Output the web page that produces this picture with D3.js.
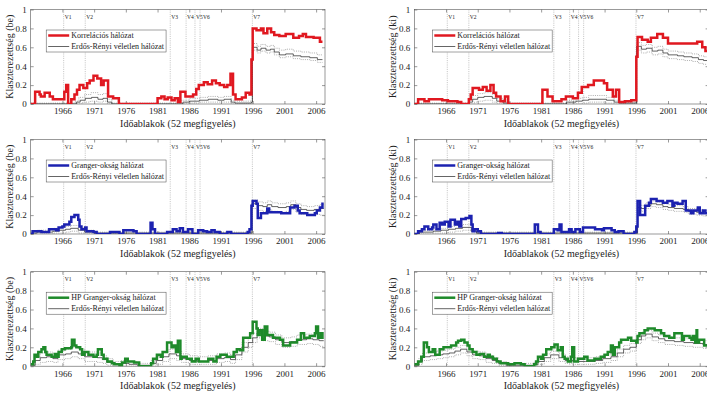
<!DOCTYPE html>
<html>
<head>
<meta charset="utf-8">
<script src="https://cdn.jsdelivr.net/npm/d3@7"></script>
<style>
  body { margin: 0; background: #fff; }
  text { font-family: "Liberation Serif", "Times New Roman", serif; fill: #222; }
</style>
</head>
<body>
<svg id="chart" width="707" height="393"></svg>
<script>
// tick labels and event markers
const yearTicks = [1966, 1971, 1976, 1981, 1986, 1991, 1996, 2001, 2006];
const valueTicks = [0, 0.2, 0.4, 0.6, 0.8, 1];
const eventYears = [1966.2, 1969.6, 1983.0, 1985.5, 1986.9, 1987.7, 1995.95];
const eventNames = ["V1", "V2", "V3", "V4", "V5", "V6", "V7"];

// korrelacios halozat (be)
const corrBeMain = [[1961,0],[1961.7,0.13],[1962.4,0.10],[1962.6,0.08],[1963.2,0.12],[1964.0,0.08],[1964.5,0.05],[1966.3,0.13],[1966.6,0.20],[1966.9,0.0],[1967.4,0.05],[1967.9,0.10],[1968.3,0.15],[1968.7,0.20],[1969.3,0.17],[1969.9,0.22],[1970.3,0.25],[1970.9,0.30],[1971.5,0.27],[1972.1,0.20],[1972.5,0.25],[1973.2,0.08],[1974.0,0.06],[1974.9,0.0],[1981.0,0.06],[1981.6,0.08],[1982.1,0.05],[1982.6,0.07],[1983.2,0.04],[1983.7,0.06],[1984.2,0.02],[1984.6,0.13],[1985.4,0.08],[1986.6,0.10],[1987.1,0.16],[1987.5,0.20],[1988.3,0.23],[1988.9,0.21],[1989.6,0.25],[1990.2,0.22],[1990.8,0.20],[1991.5,0.18],[1992.0,0.20],[1992.5,0.32],[1992.9,0.10],[1993.3,0.05],[1994.3,0.07],[1994.9,0.12],[1995.5,0.10],[1995.8,0.47],[1996.0,0.80],[1996.6,0.78],[1997.3,0.80],[1997.7,0.75],[1998.3,0.80],[1998.9,0.76],[1999.4,0.73],[2000.2,0.72],[2001.2,0.74],[2002.4,0.70],[2003.3,0.72],[2003.9,0.74],[2004.4,0.71],[2005.6,0.70],[2006.6,0.66],[2007.0,0.66]];
const corrBeMean = [[1961,0],[1968.2,0.02],[1968.8,0.04],[1969.6,0.06],[1970.6,0.07],[1971.6,0.05],[1972.4,0.06],[1973.1,0.02],[1973.8,0.0],[1985.0,0.02],[1986.0,0.03],[1987.6,0.04],[1989.0,0.05],[1990.5,0.04],[1991.5,0.05],[1992.6,0.02],[1993.2,0.01],[1995.8,0.02],[1995.95,0.60],[1996.7,0.57],[1997.3,0.59],[1998.1,0.57],[1998.8,0.58],[1999.4,0.55],[2000.2,0.52],[2001.2,0.53],[2002.4,0.51],[2003.6,0.50],[2005.0,0.49],[2006.2,0.47],[2007,0.47]];
const corrBeHi = [[1961,0.01],[1968.0,0.03],[1968.6,0.07],[1969.5,0.10],[1970.5,0.12],[1971.6,0.10],[1972.4,0.11],[1973.1,0.05],[1973.8,0.01],[1984.8,0.04],[1986.0,0.06],[1987.6,0.07],[1989.0,0.08],[1990.5,0.07],[1991.5,0.08],[1992.6,0.04],[1993.2,0.03],[1995.95,0.64],[1996.7,0.61],[1997.3,0.63],[1998.1,0.61],[1998.8,0.62],[1999.4,0.59],[2000.2,0.57],[2001.2,0.58],[2002.4,0.56],[2003.6,0.55],[2005.0,0.54],[2006.2,0.52],[2007,0.52]];
const corrBeLo = [[1961,0],[1969.2,0.02],[1970.4,0.03],[1971.6,0.02],[1972.4,0.03],[1973.1,0],[1986.0,0.01],[1987.6,0.02],[1990.5,0.02],[1992.6,0],[1995.95,0.57],[1996.7,0.54],[1997.3,0.56],[1998.1,0.54],[1998.8,0.55],[1999.4,0.52],[2000.2,0.49],[2001.2,0.50],[2002.4,0.48],[2003.6,0.47],[2005.0,0.46],[2006.2,0.44],[2007,0.44]];

// korrelacios halozat (ki)
const corrKiMain = [[1961,0],[1961.6,0.05],[1962.6,0.03],[1963.3,0.05],[1965.4,0.04],[1966.3,0.03],[1967.8,0.02],[1968.4,0.0],[1969.6,0.05],[1969.9,0.10],[1970.2,0.17],[1971.2,0.15],[1971.8,0.18],[1972.4,0.14],[1973.0,0.20],[1973.5,0.12],[1973.9,0.08],[1974.6,0.03],[1975.3,0.08],[1975.8,0.0],[1981.2,0.15],[1982.0,0.08],[1982.8,0.03],[1984.2,0.05],[1984.9,0.08],[1986.0,0.06],[1986.8,0.12],[1987.4,0.18],[1988.4,0.20],[1989.3,0.25],[1990.9,0.22],[1991.4,0.15],[1992.3,0.08],[1992.8,0.15],[1993.3,0.02],[1994.2,0.03],[1995.2,0.04],[1996.0,0.50],[1996.2,0.71],[1996.9,0.68],[1997.8,0.66],[1998.3,0.70],[1999.3,0.74],[2000.2,0.70],[2001.0,0.64],[2005.6,0.66],[2006.4,0.60],[2006.9,0.56],[2007.4,0.56]];
const corrKiMean = [[1961,0],[1969.6,0.02],[1970.2,0.05],[1971.0,0.07],[1972.0,0.08],[1973.3,0.06],[1974.0,0.03],[1975.0,0.01],[1976.0,0],[1985.0,0.02],[1986.5,0.03],[1987.5,0.04],[1988.5,0.05],[1991.3,0.04],[1992.5,0.02],[1993.3,0.01],[1996.05,0.61],[1996.8,0.58],[1997.6,0.59],[1998.5,0.56],[1999.4,0.57],[2000.2,0.54],[2001.0,0.52],[2002.5,0.51],[2003.5,0.50],[2004.8,0.49],[2005.8,0.47],[2006.6,0.46],[2007.4,0.46]];
const corrKiHi = [[1961,0.01],[1969.6,0.05],[1970.2,0.09],[1971.0,0.11],[1972.0,0.12],[1973.3,0.10],[1974.0,0.06],[1975.0,0.02],[1976.0,0.01],[1985.0,0.04],[1986.5,0.06],[1987.5,0.07],[1988.5,0.09],[1991.3,0.07],[1992.5,0.04],[1993.3,0.02],[1996.05,0.65],[1996.8,0.62],[1997.6,0.63],[1998.5,0.60],[1999.4,0.61],[2000.2,0.58],[2001.0,0.56],[2002.5,0.55],[2003.5,0.54],[2004.8,0.53],[2005.8,0.51],[2006.6,0.50],[2007.4,0.50]];
const corrKiLo = [[1961,0],[1970.5,0.02],[1971.0,0.03],[1972.0,0.04],[1973.3,0.02],[1974.0,0],[1987.5,0.01],[1988.5,0.02],[1991.3,0.01],[1992.5,0],[1996.05,0.57],[1996.8,0.54],[1997.6,0.55],[1998.5,0.52],[1999.4,0.53],[2000.2,0.50],[2001.0,0.48],[2002.5,0.47],[2003.5,0.46],[2004.8,0.45],[2005.8,0.43],[2006.6,0.42],[2007.4,0.42]];

// granger-oksag halozat (be)
const grBeMain = [[1961,0.0],[1961.3,0.03],[1962.7,0.02],[1963.9,0.05],[1965.0,0.04],[1965.4,0.07],[1966.0,0.08],[1966.3,0.10],[1967.1,0.13],[1967.4,0.18],[1967.9,0.20],[1968.5,0.15],[1968.7,0.08],[1969.0,0.05],[1969.6,0.07],[1969.8,0.03],[1970.9,0.02],[1971.4,0.0],[1973.5,0.02],[1975.0,0.0],[1975.6,0.04],[1977.2,0.03],[1977.7,0.0],[1979.9,0.12],[1980.2,0.05],[1980.6,0.0],[1982.5,0.02],[1983.4,0.05],[1984.0,0.03],[1984.5,0.06],[1985.0,0.02],[1985.8,0.05],[1986.5,0.0],[1987.4,0.04],[1988.2,0.03],[1988.8,0.02],[1989.5,0.04],[1990.0,0.02],[1990.8,0.0],[1992.0,0.02],[1992.6,0.0],[1995.2,0.02],[1995.5,0.05],[1995.8,0.30],[1996.0,0.35],[1996.6,0.32],[1996.8,0.17],[1997.3,0.22],[1998.3,0.27],[1998.6,0.23],[2000.5,0.22],[2001.9,0.28],[2002.6,0.30],[2003.1,0.25],[2003.4,0.22],[2004.6,0.20],[2005.8,0.22],[2006.1,0.25],[2006.6,0.28],[2007.0,0.32],[2007.2,0.32]];
const grBeMean = [[1961,0.01],[1962.0,0.02],[1964.5,0.03],[1965.5,0.04],[1966.5,0.05],[1967.3,0.06],[1968.5,0.04],[1969.5,0.02],[1971.0,0.01],[1995.9,0.32],[1996.8,0.30],[1997.6,0.29],[1998.3,0.31],[1999.0,0.29],[2000.0,0.28],[2001.3,0.29],[2002.0,0.31],[2002.8,0.28],[2003.6,0.26],[2004.5,0.25],[2005.7,0.26],[2006.5,0.27],[2007.2,0.27]];
const grBeHi = [[1961,0.03],[1962.0,0.04],[1964.5,0.06],[1965.5,0.07],[1966.5,0.08],[1967.3,0.09],[1968.5,0.07],[1969.5,0.04],[1971.0,0.02],[1995.9,0.36],[1996.8,0.34],[1997.6,0.33],[1998.3,0.35],[1999.0,0.33],[2000.0,0.32],[2001.3,0.33],[2002.0,0.35],[2002.8,0.32],[2003.6,0.30],[2004.5,0.29],[2005.7,0.30],[2006.5,0.31],[2007.2,0.31]];
const grBeLo = [[1961,0],[1964.5,0.01],[1966.5,0.02],[1967.3,0.03],[1968.5,0.01],[1969.5,0],[1995.9,0.27],[1996.8,0.25],[1997.6,0.24],[1998.3,0.26],[1999.0,0.24],[2000.0,0.23],[2001.3,0.24],[2002.0,0.26],[2002.8,0.23],[2003.6,0.21],[2004.5,0.20],[2005.7,0.21],[2006.5,0.20],[2007.2,0.20]];

// granger-oksag halozat (ki)
const grKiMain = [[1961,0],[1961.6,0.03],[1962.2,0.05],[1962.6,0.08],[1963.2,0.05],[1963.8,0.07],[1964.0,0.10],[1964.5,0.05],[1965.0,0.12],[1965.4,0.10],[1965.8,0.13],[1966.4,0.08],[1966.7,0.15],[1967.4,0.10],[1967.8,0.13],[1968.1,0.08],[1968.4,0.16],[1969.1,0.17],[1969.7,0.19],[1970.0,0.10],[1970.2,0.03],[1970.5,0.05],[1971.0,0.03],[1971.5,0.0],[1974.2,0.01],[1974.8,0.0],[1980.0,0.10],[1980.5,0.02],[1980.9,0.0],[1983.0,0.05],[1983.6,0.04],[1983.9,0.10],[1984.2,0.02],[1985.4,0.05],[1985.8,0.02],[1986.4,0.05],[1987.1,0.02],[1987.6,0.07],[1989.5,0.05],[1990.6,0.04],[1990.9,0.06],[1992.1,0.04],[1992.6,0.02],[1993.2,0.03],[1994.0,0.0],[1995.7,0.02],[1996.0,0.08],[1996.2,0.35],[1996.6,0.20],[1997.4,0.30],[1998.0,0.33],[1998.3,0.37],[1999.2,0.35],[2000.2,0.33],[2000.9,0.35],[2001.7,0.30],[2002.0,0.33],[2002.5,0.32],[2003.3,0.35],[2003.8,0.25],[2004.6,0.22],[2005.0,0.25],[2005.7,0.28],[2006.0,0.22],[2006.5,0.25],[2006.9,0.22],[2007.4,0.22]];
const grKiMean = [[1961,0],[1961.8,0.02],[1964.0,0.03],[1965.2,0.04],[1966.4,0.05],[1967.5,0.06],[1968.6,0.07],[1970.0,0.03],[1970.8,0.01],[1996.2,0.28],[1996.8,0.27],[1997.5,0.30],[1998.3,0.32],[1999.2,0.31],[2000.2,0.29],[2001.0,0.28],[2002.0,0.27],[2003.4,0.26],[2004.2,0.24],[2005.5,0.23],[2006.5,0.22],[2007.4,0.22]];
const grKiHi = [[1961,0.01],[1961.8,0.04],[1964.0,0.05],[1965.2,0.06],[1966.4,0.08],[1967.5,0.09],[1968.6,0.10],[1970.0,0.05],[1970.8,0.02],[1996.2,0.31],[1996.8,0.30],[1997.5,0.33],[1998.3,0.35],[1999.2,0.34],[2000.2,0.32],[2001.0,0.31],[2002.0,0.30],[2003.4,0.29],[2004.2,0.27],[2005.5,0.26],[2006.5,0.25],[2007.4,0.25]];
const grKiLo = [[1961,0],[1964.0,0.01],[1966.4,0.02],[1967.5,0.03],[1968.6,0.04],[1970.0,0.01],[1970.8,0],[1996.2,0.25],[1996.8,0.24],[1997.5,0.27],[1998.3,0.29],[1999.2,0.28],[2000.2,0.26],[2001.0,0.25],[2002.0,0.24],[2003.4,0.23],[2004.2,0.21],[2005.5,0.20],[2006.5,0.19],[2007.4,0.19]];

// HP granger-oksag halozat (be)
const hpBeMain = [[1961,0.02],[1961.4,0.05],[1961.6,0.12],[1962.0,0.10],[1962.2,0.15],[1962.7,0.18],[1963.0,0.20],[1963.3,0.15],[1963.5,0.12],[1964.3,0.10],[1964.8,0.13],[1965.1,0.10],[1965.4,0.15],[1965.9,0.18],[1966.4,0.19],[1967.4,0.20],[1967.5,0.28],[1967.9,0.22],[1968.2,0.20],[1968.8,0.18],[1969.1,0.12],[1969.5,0.15],[1970.1,0.12],[1970.9,0.10],[1971.4,0.12],[1971.6,0.18],[1972.2,0.12],[1972.5,0.08],[1973.1,0.05],[1973.8,0.03],[1974.2,0.02],[1975.0,0.0],[1975.4,0.04],[1975.9,0.08],[1976.3,0.05],[1977.3,0.04],[1978.1,0.0],[1980.0,0.03],[1980.3,0.08],[1980.9,0.12],[1981.5,0.10],[1981.8,0.15],[1982.5,0.25],[1983.2,0.20],[1983.5,0.22],[1983.9,0.15],[1984.2,0.27],[1984.6,0.08],[1984.8,0.10],[1985.6,0.08],[1986.4,0.05],[1987.0,0.08],[1987.5,0.05],[1989.0,0.08],[1989.8,0.05],[1990.3,0.10],[1990.9,0.12],[1991.9,0.10],[1993.0,0.15],[1993.5,0.18],[1994.0,0.17],[1994.5,0.30],[1995.6,0.35],[1996.0,0.47],[1996.6,0.40],[1996.8,0.33],[1997.1,0.38],[1997.5,0.28],[1997.9,0.42],[1998.3,0.33],[1999.2,0.30],[2000.3,0.28],[2000.8,0.22],[2001.9,0.25],[2003.0,0.28],[2003.6,0.35],[2004.1,0.30],[2005.0,0.32],[2005.8,0.35],[2006.0,0.42],[2006.3,0.30],[2006.7,0.35],[2007.0,0.30],[2007.2,0.30]];
const hpBeMean = [[1961,0.01],[1961.7,0.06],[1962.5,0.09],[1963.5,0.10],[1964.5,0.08],[1965.3,0.12],[1966.5,0.13],[1967.4,0.15],[1968.5,0.13],[1969.5,0.10],[1970.5,0.10],[1971.5,0.09],[1972.3,0.07],[1973.0,0.04],[1974.0,0.02],[1975.3,0.03],[1976.5,0.02],[1977.8,0.01],[1980.0,0.03],[1980.8,0.06],[1981.8,0.10],[1982.8,0.13],[1984.0,0.11],[1984.8,0.08],[1986.0,0.06],[1987.3,0.05],[1989.0,0.06],[1990.3,0.08],[1991.5,0.09],[1992.5,0.07],[1993.3,0.12],[1994.3,0.20],[1995.3,0.25],[1996.0,0.30],[1996.7,0.35],[1997.6,0.32],[1998.6,0.31],[1999.6,0.28],[2000.6,0.25],[2002.0,0.26],[2003.0,0.28],[2004.5,0.29],[2005.5,0.28],[2006.5,0.27],[2007.2,0.27]];
const hpBeHi = [[1961,0.03],[1961.7,0.10],[1962.5,0.14],[1963.5,0.15],[1964.5,0.13],[1965.3,0.17],[1966.5,0.18],[1967.4,0.20],[1968.5,0.18],[1969.5,0.15],[1970.5,0.15],[1971.5,0.14],[1972.3,0.11],[1973.0,0.08],[1974.0,0.05],[1975.3,0.06],[1976.5,0.05],[1977.8,0.03],[1980.0,0.06],[1980.8,0.10],[1981.8,0.15],[1982.8,0.18],[1984.0,0.16],[1984.8,0.13],[1986.0,0.11],[1987.3,0.10],[1989.0,0.11],[1990.3,0.13],[1991.5,0.14],[1992.5,0.12],[1993.3,0.17],[1994.3,0.25],[1995.3,0.30],[1996.0,0.35],[1996.7,0.40],[1997.6,0.37],[1998.6,0.36],[1999.6,0.33],[2000.6,0.30],[2002.0,0.31],[2003.0,0.33],[2004.5,0.34],[2005.5,0.33],[2006.5,0.32],[2007.2,0.32]];
const hpBeLo = [[1961,0],[1961.7,0.02],[1962.5,0.04],[1963.5,0.05],[1964.5,0.04],[1965.3,0.07],[1966.5,0.08],[1967.4,0.10],[1968.5,0.08],[1969.5,0.05],[1970.5,0.05],[1971.5,0.04],[1972.3,0.03],[1973.0,0.01],[1974.0,0],[1980.8,0.02],[1981.8,0.05],[1982.8,0.08],[1984.0,0.06],[1984.8,0.04],[1986.0,0.02],[1989.0,0.02],[1990.3,0.04],[1991.5,0.05],[1992.5,0.03],[1993.3,0.07],[1994.3,0.15],[1995.3,0.20],[1996.0,0.25],[1996.7,0.30],[1997.6,0.27],[1998.6,0.26],[1999.6,0.23],[2000.6,0.20],[2002.0,0.21],[2003.0,0.23],[2004.5,0.24],[2005.5,0.23],[2006.5,0.21],[2007.2,0.20]];

// HP granger-oksag halozat (ki)
const hpKiMain = [[1961,0.02],[1961.6,0.05],[1962.1,0.10],[1962.5,0.25],[1963.0,0.20],[1963.3,0.15],[1963.9,0.18],[1964.3,0.12],[1965.0,0.18],[1965.6,0.20],[1966.8,0.22],[1967.6,0.25],[1967.9,0.27],[1968.4,0.28],[1968.9,0.25],[1969.4,0.22],[1969.7,0.18],[1970.2,0.15],[1970.8,0.12],[1971.3,0.13],[1972.0,0.10],[1972.6,0.12],[1972.9,0.10],[1973.4,0.08],[1974.0,0.05],[1974.6,0.03],[1975.8,0.02],[1976.8,0.03],[1977.8,0.02],[1978.4,0.0],[1979.9,0.02],[1980.2,0.05],[1980.5,0.10],[1981.0,0.08],[1981.3,0.12],[1981.8,0.18],[1982.6,0.20],[1983.1,0.23],[1983.6,0.17],[1984.1,0.20],[1984.4,0.10],[1984.7,0.08],[1985.2,0.05],[1985.7,0.10],[1985.9,0.20],[1986.2,0.05],[1986.8,0.08],[1987.8,0.10],[1988.3,0.06],[1989.4,0.08],[1990.4,0.10],[1991.0,0.12],[1991.5,0.15],[1992.0,0.22],[1992.3,0.12],[1992.6,0.20],[1993.3,0.25],[1993.6,0.28],[1994.7,0.30],[1995.2,0.27],[1996.0,0.25],[1996.2,0.32],[1996.5,0.35],[1997.3,0.38],[1997.8,0.40],[1998.9,0.38],[1999.9,0.35],[2000.4,0.32],[2001.2,0.30],[2002.0,0.35],[2003.2,0.28],[2003.5,0.32],[2004.4,0.30],[2004.7,0.28],[2004.9,0.32],[2005.3,0.25],[2005.5,0.38],[2005.6,0.25],[2005.9,0.28],[2006.7,0.22],[2007.4,0.22]];
const hpKiMean = [[1961,0.01],[1961.7,0.05],[1962.3,0.10],[1963.5,0.11],[1964.5,0.12],[1965.5,0.13],[1966.5,0.14],[1967.4,0.16],[1968.3,0.18],[1969.3,0.15],[1970.2,0.12],[1971.2,0.11],[1972.3,0.08],[1973.3,0.06],[1974.3,0.03],[1975.5,0.01],[1979.8,0.02],[1980.5,0.05],[1981.5,0.09],[1982.5,0.12],[1983.8,0.09],[1984.8,0.06],[1986.0,0.05],[1988.0,0.05],[1989.5,0.06],[1990.7,0.08],[1992.0,0.10],[1993.0,0.14],[1994.0,0.18],[1995.0,0.20],[1996.0,0.28],[1996.8,0.32],[1997.5,0.34],[1998.5,0.31],[1999.5,0.29],[2000.5,0.27],[2002.0,0.26],[2003.5,0.25],[2005.0,0.24],[2006.5,0.23],[2007.4,0.23]];
const hpKiHi = [[1961,0.03],[1961.7,0.08],[1962.3,0.14],[1963.5,0.15],[1964.5,0.16],[1965.5,0.17],[1966.5,0.18],[1967.4,0.20],[1968.3,0.22],[1969.3,0.19],[1970.2,0.16],[1971.2,0.15],[1972.3,0.12],[1973.3,0.09],[1974.3,0.05],[1975.5,0.03],[1979.8,0.04],[1980.5,0.08],[1981.5,0.13],[1982.5,0.16],[1983.8,0.13],[1984.8,0.10],[1986.0,0.09],[1988.0,0.09],[1989.5,0.10],[1990.7,0.12],[1992.0,0.14],[1993.0,0.18],[1994.0,0.22],[1995.0,0.24],[1996.0,0.32],[1996.8,0.36],[1997.5,0.38],[1998.5,0.35],[1999.5,0.33],[2000.5,0.31],[2002.0,0.30],[2003.5,0.29],[2005.0,0.28],[2006.5,0.27],[2007.4,0.27]];
const hpKiLo = [[1961,0],[1961.7,0.02],[1962.3,0.06],[1963.5,0.07],[1964.5,0.08],[1965.5,0.09],[1966.5,0.10],[1967.4,0.12],[1968.3,0.14],[1969.3,0.11],[1970.2,0.08],[1971.2,0.07],[1972.3,0.04],[1973.3,0.03],[1974.3,0.01],[1975.5,0],[1980.5,0.02],[1981.5,0.05],[1982.5,0.08],[1983.8,0.05],[1984.8,0.03],[1986.0,0.02],[1988.0,0.02],[1989.5,0.03],[1990.7,0.04],[1992.0,0.06],[1993.0,0.10],[1994.0,0.14],[1995.0,0.16],[1996.0,0.24],[1996.8,0.28],[1997.5,0.30],[1998.5,0.27],[1999.5,0.25],[2000.5,0.23],[2002.0,0.22],[2003.5,0.21],[2005.0,0.20],[2006.5,0.19],[2007.4,0.19]];

const randomLabel = "Erdős-Rényi véletlen hálózat";
const xTitle = "Időablakok (52 megfigyelés)";

// panel layout
const colX = [30.7, 414.3];
const rowY = [9.5, 139.5, 271.7];
const plotW = 294.3;
const plotH = 94.5;

const panels = [
  { col: 0, row: 0, name: "Korrelációs hálózat", yLabel: "Klaszterezettség (be)", color: "#e01820", main: corrBeMain, mean: corrBeMean, hi: corrBeHi, lo: corrBeLo },
  { col: 1, row: 0, name: "Korrelációs hálózat", yLabel: "Klaszterezettség (ki)", color: "#e01820", main: corrKiMain, mean: corrKiMean, hi: corrKiHi, lo: corrKiLo },
  { col: 0, row: 1, name: "Granger-okság hálózat", yLabel: "Klaszterezettség (be)", color: "#1c22b0", main: grBeMain, mean: grBeMean, hi: grBeHi, lo: grBeLo },
  { col: 1, row: 1, name: "Granger-okság hálózat", yLabel: "Klaszterezettség (ki)", color: "#1c22b0", main: grKiMain, mean: grKiMean, hi: grKiHi, lo: grKiLo },
  { col: 0, row: 2, name: "HP Granger-okság hálózat", yLabel: "Klaszterezettség (be)", color: "#1e8a2a", main: hpBeMain, mean: hpBeMean, hi: hpBeHi, lo: hpBeLo },
  { col: 1, row: 2, name: "HP Granger-okság hálózat", yLabel: "Klaszterezettség (ki)", color: "#1e8a2a", main: hpKiMain, mean: hpKiMean, hi: hpKiHi, lo: hpKiLo }
];

const svg = d3.select("#chart");

panels.forEach((p, i) => {
  const x0 = colX[p.col], y0 = rowY[p.row];
  const x = d3.scaleLinear().domain([1961, 2007.4]).range([0, plotW]);
  const y = d3.scaleLinear().domain([0, 1]).range([plotH, 0]);

  const g = svg.append("g").attr("transform", "translate(" + x0 + "," + y0 + ")");

  svg.append("clipPath").attr("id", "clip" + i)
    .append("rect").attr("width", plotW).attr("height", plotH);

  // box
  g.append("rect").attr("width", plotW).attr("height", plotH)
    .attr("fill", "#fff").attr("stroke", "#555").attr("stroke-width", 0.6);

  // ticks (inward, all sides)
  const tickLen = 3;
  g.append("g").attr("transform", "translate(0," + plotH + ")")
    .call(d3.axisBottom(x).tickValues(yearTicks).tickFormat(d3.format("d")).tickSizeInner(-tickLen).tickSizeOuter(0).tickPadding(4))
    .call(a => a.select(".domain").remove());
  g.append("g")
    .call(d3.axisTop(x).tickValues(yearTicks).tickFormat("").tickSizeInner(-tickLen).tickSizeOuter(0))
    .call(a => a.select(".domain").remove());
  g.append("g")
    .call(d3.axisLeft(y).tickValues(valueTicks).tickFormat(d => d === 0 || d === 1 ? d : d3.format(".1f")(d)).tickSizeInner(-tickLen).tickSizeOuter(0).tickPadding(4))
    .call(a => a.select(".domain").remove());
  g.append("g").attr("transform", "translate(" + plotW + ",0)")
    .call(d3.axisRight(y).tickValues(valueTicks).tickFormat("").tickSizeInner(-tickLen).tickSizeOuter(0))
    .call(a => a.select(".domain").remove());
  g.selectAll(".tick line").attr("stroke", "#555").attr("stroke-width", 0.6);
  g.selectAll(".tick text").style("font-size", "9px").attr("fill", "#333");

  const plot = g.append("g").attr("clip-path", "url(#clip" + i + ")");

  // event lines
  plot.selectAll(".ev").data(eventYears).enter().append("line")
    .attr("x1", d => x(d)).attr("x2", d => x(d))
    .attr("y1", 0).attr("y2", plotH)
    .attr("stroke", "#999").attr("stroke-width", 0.6).attr("stroke-dasharray", "1,1.2");
  // event labels, pushed right so the crowded V4/V5/V6 run together without overlapping
  let prevEnd = -Infinity;
  eventYears.forEach((d, k) => {
    const t = plot.append("text")
      .attr("x", Math.max(x(d) + 1, prevEnd)).attr("y", 9)
      .style("font-size", "5.5px").attr("fill", "#444")
      .text(eventNames[k]);
    prevEnd = Math.max(x(d) + 1, prevEnd) + t.node().getComputedTextLength() + 0.3;
  });

  const line = d3.line().curve(d3.curveStepAfter).x(d => x(d[0])).y(d => y(d[1]));

  [p.hi, p.lo].forEach(s => {
    plot.append("path").datum(s).attr("d", line).attr("fill", "none")
      .attr("stroke", "#777").attr("stroke-width", 0.6).attr("stroke-dasharray", "1,1.2");
  });
  plot.append("path").datum(p.mean).attr("d", line).attr("fill", "none")
    .attr("stroke", "#222").attr("stroke-width", 0.7);
  plot.append("path").datum(p.main).attr("d", line).attr("fill", "none")
    .attr("stroke", p.color).attr("stroke-width", 2.5);

  // legend
  const lg = g.append("g").attr("transform", "translate(" + (p.col === 0 ? 15.5 : 18) + "," + 20.5 + ")");
  const box = lg.append("rect").attr("height", 22).attr("fill", "#fff").attr("stroke", "#444").attr("stroke-width", 0.5);
  lg.append("line").attr("x1", 2).attr("x2", 23).attr("y1", 5.5).attr("y2", 5.5).attr("stroke", p.color).attr("stroke-width", 2.5);
  lg.append("line").attr("x1", 2).attr("x2", 23).attr("y1", 16.5).attr("y2", 16.5).attr("stroke", "#222").attr("stroke-width", 0.7);
  lg.append("text").attr("x", 25).attr("y", 8).style("font-size", "8px").text(p.name);
  const t2 = lg.append("text").attr("x", 25).attr("y", 19).style("font-size", "8px").text(randomLabel);
  box.attr("width", 25 + t2.node().getComputedTextLength() + 2);

  // axis titles
  g.append("text").attr("x", plotW / 2).attr("y", plotH + 22.5)
    .attr("text-anchor", "middle").style("font-size", "10px").text(xTitle);
  g.append("text").attr("transform", "translate(" + (-18) + "," + (plotH / 2) + ") rotate(-90)")
    .attr("text-anchor", "middle").style("font-size", "10px").text(p.yLabel);
});
</script>
</body>
</html>
